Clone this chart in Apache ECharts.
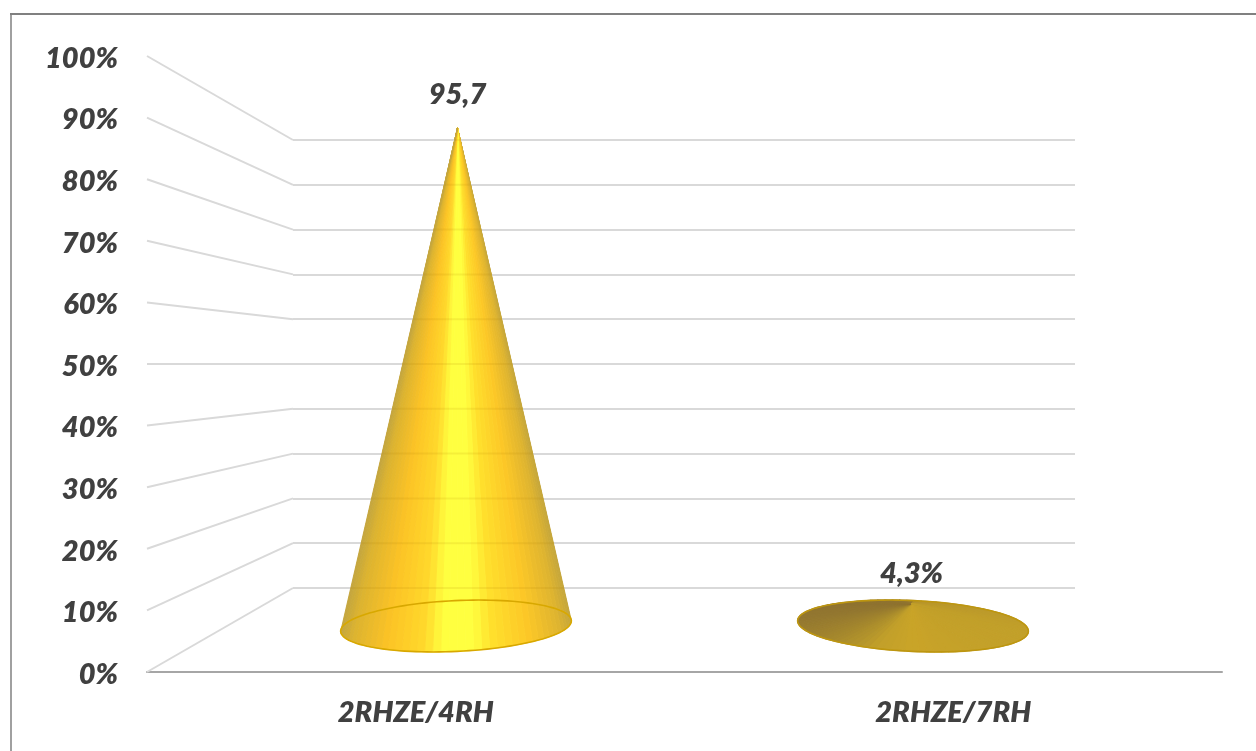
<!DOCTYPE html>
<html>
<head>
<meta charset="utf-8">
<title>Esquemas de tratamento</title>
<script src="https://cdn.jsdelivr.net/npm/echarts@6/dist/echarts.min.js"></script>
<style>
  html, body { margin: 0; padding: 0; background: #fff; }
  #chart { width: 1256px; height: 751px; }
</style>
</head>
<body>
<div id="chart"></div>
<script>
const categories = ['2RHZE/4RH', '2RHZE/7RH'];
const shares = [95.7, 4.3];
const shareLabels = ['95,7', '4,3%'];
const percentTicks = [0, 10, 20, 30, 40, 50, 60, 70, 80, 90, 100];

const FONT = 'Lato, "Open Sans", sans-serif';
const INK = '#404040';
const WALL = '#d9d9d9';
const LABEL_GAP = [33, 30];

// Cone surface ramps: the tall cone shades across its width, the flat one by ray direction from its tip.
const SIDE_RAMP = [
  [0, '#c4a63e'], [0.05, '#dcb330'], [0.2, '#fcc325'], [0.36, '#ffd92b'], [0.44, '#ffff40'],
  [0.57, '#ffff40'], [0.66, '#ffdf2c'], [0.82, '#fcc727'], [0.95, '#deb430'], [1, '#c4a63c']
];
const TOP_RAMP = [
  [0, '#b8962c'], [0.04, '#c2a02a'], [0.25, '#caa428'], [0.36, '#c2a02a'], [0.42, '#ac8e2c'],
  [0.48, '#937730'], [0.5, '#8f7330'], [0.75, '#947830'], [0.9, '#a88a2e'], [1, '#b8962c']
];
const BASE_TILT_DEG = [-2.7, 2.7];

function hexToRgb(hex) {
  return [1, 3, 5].map(function (i) { return parseInt(hex.substr(i, 2), 16); });
}

function rampColor(ramp, t) {
  for (let i = 1; i < ramp.length; i++) {
    if (t <= ramp[i][0]) {
      const f = (t - ramp[i - 1][0]) / (ramp[i][0] - ramp[i - 1][0]);
      const a = hexToRgb(ramp[i - 1][1]);
      const b = hexToRgb(ramp[i][1]);
      return 'rgb(' + a.map(function (c, k) { return Math.round(c + (b[k] - c) * f); }).join(',') + ')';
    }
  }
  return ramp[ramp.length - 1][1];
}

const chart = echarts.init(document.getElementById('chart'), null, { renderer: 'canvas' });

function backWallY(value) {
  return chart.convertToPixel({ yAxisIndex: 1 }, value);
}

// Joins each tick on the front edge to the same tick on the back wall.
function renderSideLine(params, api) {
  const tick = api.value(0);
  const front = api.coord([0, tick]);
  const backLeft = chart.getWidth() - 963;
  return {
    type: 'line',
    shape: { x1: params.coordSys.x, y1: front[1], x2: backLeft, y2: backWallY(tick) },
    style: { stroke: WALL, lineWidth: 2 }
  };
}

function renderCone(params, api) {
  const index = api.value(0);
  const value = api.value(1);
  const center = api.coord([index, 0]);
  const apex = api.coord([index, value]);
  const band = api.size([1, 0])[0];
  const rx = band * 0.2527;
  const ry = rx * 0.22;
  const tilt = BASE_TILT_DEG[index] * Math.PI / 180;
  apex[0] -= BASE_TILT_DEG[index] * 0.55;
  const rimPoint = function (theta) {
    const ex = rx * Math.cos(theta);
    const ey = ry * Math.sin(theta);
    return [
      center[0] + ex * Math.cos(tilt) - ey * Math.sin(tilt),
      center[1] + ex * Math.sin(tilt) + ey * Math.cos(tilt)
    ];
  };
  const flat = center[1] - apex[1] <= ry;
  const children = [];
  const slices = flat ? 96 : 44;
  const sweep = flat ? Math.PI * 2 : Math.PI;
  for (let i = 0; i < slices; i++) {
    const a = sweep * i / slices;
    const b = sweep * (i + 1) / slices;
    const p = rimPoint(a);
    const q = rimPoint(b);
    const mx = (p[0] + q[0]) / 2;
    const my = (p[1] + q[1]) / 2;
    let color;
    if (flat) {
      const turn = Math.atan2(my - apex[1], mx - apex[0]) / (2 * Math.PI);
      color = rampColor(TOP_RAMP, turn < 0 ? turn + 1 : turn);
    } else {
      color = rampColor(SIDE_RAMP, (mx - (center[0] - rx)) / (2 * rx));
    }
    children.push({
      type: 'polygon',
      shape: { points: [apex, p, q] },
      style: { fill: color, stroke: color, lineWidth: flat ? 1.2 : 0.9, lineJoin: 'bevel' }
    });
  }
  // Back wall lines show faintly through the translucent body.
  if (!flat) {
    percentTicks.forEach(function (tick) {
      const y = backWallY(tick);
      if (y <= apex[1] || y >= center[1]) return;
      const half = rx * (y - apex[1]) / (center[1] - apex[1]);
      children.push({
        type: 'line',
        shape: { x1: apex[0] - half, y1: y, x2: apex[0] + half, y2: y },
        style: { stroke: 'rgba(170,120,0,0.12)', lineWidth: 2 }
      });
    });
  }
  const rim = [];
  for (let i = 0; i < 120; i++) rim.push(rimPoint(Math.PI * 2 * i / 120));
  children.push({
    type: 'polygon',
    shape: { points: rim },
    style: { fill: 'none', stroke: flat ? '#bd9610' : '#d8a800', lineWidth: 1.6 }
  });
  children.push({
    type: 'text',
    style: {
      x: apex[0],
      y: apex[1] - LABEL_GAP[index],
      text: shareLabels[index],
      fill: INK,
      fontFamily: FONT,
      fontStyle: 'italic',
      fontWeight: 800,
      fontSize: 29,
      align: 'center',
      verticalAlign: 'middle'
    }
  });
  return { type: 'group', children: children };
}

chart.setOption({
  animation: false,
  backgroundColor: '#ffffff',
  // Front edge, back wall and mid-depth planes of the 3D frame.
  grid: [
    { left: 147, right: 34, top: 56, bottom: 79 },
    { left: 293, right: 181, top: 140, bottom: 163 },
    { left: 227.5, right: 114.5, top: 105.6, bottom: 125 }
  ],
  xAxis: [
    {
      gridIndex: 0,
      type: 'category',
      data: categories,
      axisTick: { show: false },
      axisLine: { lineStyle: { color: '#a6a6a6', width: 2 } },
      axisLabel: {
        color: INK,
        fontFamily: FONT,
        fontStyle: 'italic',
        fontWeight: 800,
        fontSize: 29,
        margin: 26
      }
    },
    { gridIndex: 1, type: 'category', data: categories, show: false },
    { gridIndex: 2, type: 'category', data: categories, show: false }
  ],
  yAxis: [
    {
      gridIndex: 0,
      type: 'value',
      min: 0,
      max: 100,
      interval: 10,
      axisLine: { show: false },
      axisTick: { show: false },
      splitLine: { show: false },
      axisLabel: {
        formatter: '{tick|{value}%}',
        margin: 29,
        rich: {
          tick: {
            color: INK,
            fontFamily: FONT,
            fontStyle: 'italic',
            fontWeight: 800,
            fontSize: 29,
            padding: [5, 0, 0, 0]
          }
        }
      }
    },
    {
      gridIndex: 1,
      type: 'value',
      min: 0,
      max: 100,
      interval: 10,
      axisLine: { show: false },
      axisTick: { show: false },
      axisLabel: { show: false },
      splitLine: { lineStyle: { color: WALL, width: 2 } }
    },
    { gridIndex: 2, type: 'value', min: 0, max: 100, interval: 10, show: false }
  ],
  series: [
    {
      type: 'custom',
      name: 'Paredes',
      xAxisIndex: 0,
      yAxisIndex: 0,
      silent: true,
      clip: false,
      z: 1,
      data: percentTicks.map(function (t) { return [t]; }),
      renderItem: renderSideLine
    },
    {
      type: 'custom',
      name: 'Esquema',
      xAxisIndex: 2,
      yAxisIndex: 2,
      silent: true,
      clip: false,
      z: 3,
      encode: { x: 0, y: 1 },
      data: shares.map(function (v, i) { return [i, v]; }),
      renderItem: renderCone
    }
  ],
  graphic: [
    { type: 'line', z: 10, shape: { x1: 11, y1: 14, x2: 11, y2: 751 }, style: { stroke: '#a0a0a0', lineWidth: 2 } },
    { type: 'line', z: 10, shape: { x1: 10, y1: 14, x2: 1256, y2: 14 }, style: { stroke: '#808080', lineWidth: 2 } }
  ]
});
</script>
</body>
</html>
